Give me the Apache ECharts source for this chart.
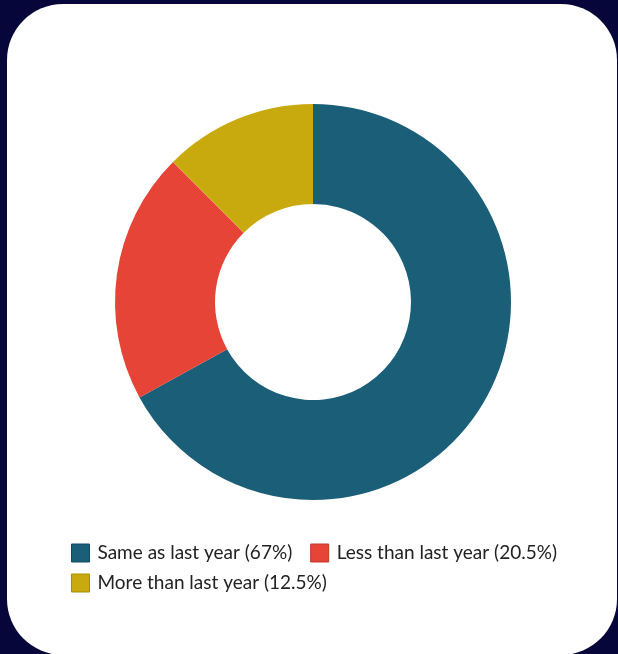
<!DOCTYPE html>
<html><head><meta charset="utf-8">
<script src="https://cdn.jsdelivr.net/npm/echarts@6/dist/echarts.min.js"></script>
<style>
html,body{margin:0;padding:0;width:618px;height:654px;background:#06063a;overflow:hidden;}
#card{position:absolute;left:7px;top:4px;width:610px;height:651px;background:#fff;border-radius:56px;}
#chart{position:absolute;left:0;top:0;width:618px;height:654px;}
</style></head>
<body><div id="card"></div><div id="chart"></div>
<script>
const categories = ['Same as last year (67%)', 'Less than last year (20.5%)', 'More than last year (12.5%)'];
const values = [67, 20.5, 12.5];
const colors = ['#1a5e78', '#e54436', '#c9aa0e'];
const borders = ['#124a60', '#c0382c', '#a88d0a'];

const chart = echarts.init(document.getElementById('chart'), null, {renderer: 'canvas'});
chart.setOption({
  animation: false,
  legend: {
    left: 71, top: 543, width: 535, padding: 0,
    itemWidth: 18, itemHeight: 18, itemGap: 10,
    icon: 'rect',
    textStyle: {fontFamily: 'Lato', fontSize: 19, lineHeight: 20, color: '#222', padding: [0, 8, 0, 3]},
    data: categories.map((c, i) => ({name: c, itemStyle: {borderColor: borders[i], borderWidth: 1}}))
  },
  series: [{
    type: 'pie',
    center: [313, 302],
    radius: [98, 198],
    startAngle: 90,
    clockwise: true,
    label: {show: false},
    labelLine: {show: false},
    emphasis: {disabled: true},
    data: categories.map((c, i) => ({name: c, value: values[i], itemStyle: {color: colors[i]}}))
  }]
});
</script></body></html>
